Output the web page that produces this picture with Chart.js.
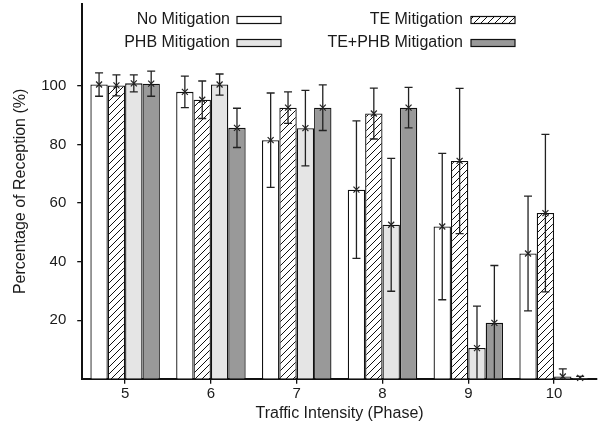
<!DOCTYPE html>
<html>
<head>
<meta charset="utf-8">
<script src="https://cdn.jsdelivr.net/npm/chart.js@4"></script>
<style>
  html, body { margin: 0; padding: 0; background: #fff; }
  #wrap { width: 612px; height: 439px; }
</style>
</head>
<body>
<div id="wrap"><canvas id="chart1" width="612" height="439"></canvas></div>
<script>
const phases = ['5', '6', '7', '8', '9', '10']
const yTicks = [20, 40, 60, 80, 100]

// bar heights (%) and error half-widths
const noMitigation = [100.5, 98.0, 81.5, 64.6, 52.0, 42.8]
const noMitigationErr = [4.0, 5.4, 16.1, 23.5, 25.0, 19.6]
const teMitigation = [100.2, 95.3, 92.6, 90.6, 74.4, 56.6]
const teMitigationErr = [3.6, 6.4, 5.4, 8.7, 24.8, 26.9]
const phbMitigation = [100.9, 100.5, 85.6, 52.6, 10.5, 0.8]
const phbMitigationErr = [2.9, 3.6, 12.9, 22.7, 14.3, 2.6]
const tePhbMitigation = [100.8, 85.7, 92.6, 92.6, 19.1, 0.3]
const tePhbMitigationErr = [4.3, 6.7, 7.8, 6.9, 19.6, 0.5]

const FONT = '"Liberation Sans", Arial, Helvetica, sans-serif'
const TICK_SIZE = 15
const LABEL_SIZE = 16
const TEXT = '#1a1a1a'

function hatchPattern() {
    const c = document.createElement('canvas')
    c.width = 7
    c.height = 7
    const g = c.getContext('2d')
    g.fillStyle = '#fff'
    g.fillRect(0, 0, 7, 7)
    g.strokeStyle = '#111'
    g.lineWidth = 1
    g.beginPath()
    g.moveTo(-1, 8); g.lineTo(8, -1)
    g.moveTo(-1, 1); g.lineTo(1, -1)
    g.moveTo(6, 8); g.lineTo(8, 6)
    g.stroke()
    return g.createPattern(c, 'repeat')
}

const hatch = hatchPattern()

const errors = [noMitigationErr, teMitigationErr, phbMitigationErr, tePhbMitigationErr]

const errorBars = {
    id: 'errorBars',
    afterDatasetsDraw(chart) {
        const ctx = chart.ctx
        const y = chart.scales.y
        ctx.save()
        chart.data.datasets.forEach((ds, i) => {
            const meta = chart.getDatasetMeta(i)
            meta.data.forEach((bar, j) => {
                const v = ds.data[j]
                const e = errors[i][j]
                const x = bar.x
                const top = y.getPixelForValue(v + e)
                const bot = y.getPixelForValue(Math.max(0, v - e))
                const mid = y.getPixelForValue(v)
                ctx.strokeStyle = '#222'
                ctx.lineWidth = 1.3
                ctx.beginPath()
                ctx.moveTo(x, top); ctx.lineTo(x, bot)
                ctx.moveTo(x - 4, top); ctx.lineTo(x + 4, top)
                if (v - e > 0) { ctx.moveTo(x - 4, bot); ctx.lineTo(x + 4, bot) }
                ctx.stroke()
                ctx.lineWidth = 1.2
                ctx.beginPath()
                ctx.moveTo(x - 3, mid - 3); ctx.lineTo(x + 3, mid + 3)
                ctx.moveTo(x - 3, mid + 3); ctx.lineTo(x + 3, mid - 3)
                ctx.stroke()
            })
        })
        ctx.restore()
    }
}

const keyBox = {
    id: 'keyBox',
    afterDraw(chart) {
        const ctx = chart.ctx
        const items = [
            { label: 'No Mitigation', textX: 230, boxX: 237, y: 20, ds: 0 },
            { label: 'PHB Mitigation', textX: 230, boxX: 237, y: 43, ds: 2 },
            { label: 'TE Mitigation', textX: 463, boxX: 471, y: 20, ds: 1 },
            { label: 'TE+PHB Mitigation', textX: 463, boxX: 471, y: 43, ds: 3 }
        ]
        ctx.save()
        ctx.font = LABEL_SIZE + 'px ' + FONT
        ctx.textAlign = 'right'
        ctx.textBaseline = 'middle'
        items.forEach(it => {
            const ds = chart.data.datasets[it.ds]
            ctx.fillStyle = TEXT
            ctx.fillText(it.label, it.textX, it.y)
            ctx.fillStyle = ds.backgroundColor
            ctx.fillRect(it.boxX, it.y - 3.5, 44, 7)
            ctx.strokeStyle = '#111'
            ctx.lineWidth = 1.2
            ctx.strokeRect(it.boxX, it.y - 3.5, 44, 7)
        })
        ctx.restore()
    }
}

const barStyle = {
    borderWidth: 1.3,
    borderColor: '#111',
    categoryPercentage: 0.81,
    barPercentage: 1.0
}

const data = {
    labels: phases,
    datasets: [
        { label: 'No Mitigation', data: noMitigation, backgroundColor: '#ffffff', ...barStyle },
        { label: 'TE Mitigation', data: teMitigation, backgroundColor: hatch, ...barStyle },
        { label: 'PHB Mitigation', data: phbMitigation, backgroundColor: '#e5e5e5', ...barStyle },
        { label: 'TE+PHB Mitigation', data: tePhbMitigation, backgroundColor: '#999999', ...barStyle }
    ]
}

const options = {
    responsive: false,
    animation: false,
    layout: { padding: { top: 4, right: 15, left: 11, bottom: 16 } },
    plugins: { legend: { display: false }, tooltip: { enabled: false } },
    scales: {
        x: {
            type: 'category',
            offset: true,
            grid: { drawOnChartArea: false, offset: false, tickLength: 5, color: '#111', lineWidth: 1.3 },
            border: { color: '#111', width: 2 },
            ticks: { color: TEXT, font: { family: FONT, size: TICK_SIZE }, padding: 1 },
            title: { display: true, text: 'Traffic Intensity (Phase)', color: TEXT, font: { family: FONT, size: LABEL_SIZE }, padding: { top: 0, bottom: 0 } }
        },
        y: {
            min: 0,
            max: 128,
            afterBuildTicks: (s) => { s.ticks = yTicks.map(v => ({ value: v })) },
            afterFit: (s) => { s.paddingTop = 0; s.paddingBottom = 0 },
            grid: { drawOnChartArea: false, tickLength: 5, color: '#111', lineWidth: 1.3 },
            border: { color: '#111', width: 2 },
            ticks: { color: TEXT, font: { family: FONT, size: TICK_SIZE }, padding: 11 },
            title: { display: true, text: 'Percentage of Reception (%)', color: TEXT, font: { family: FONT, size: LABEL_SIZE }, padding: { top: 0, bottom: 0 } }
        }
    }
}

new Chart('chart1', { type: 'bar', data, options, plugins: [errorBars, keyBox] })
</script>
</body>
</html>
